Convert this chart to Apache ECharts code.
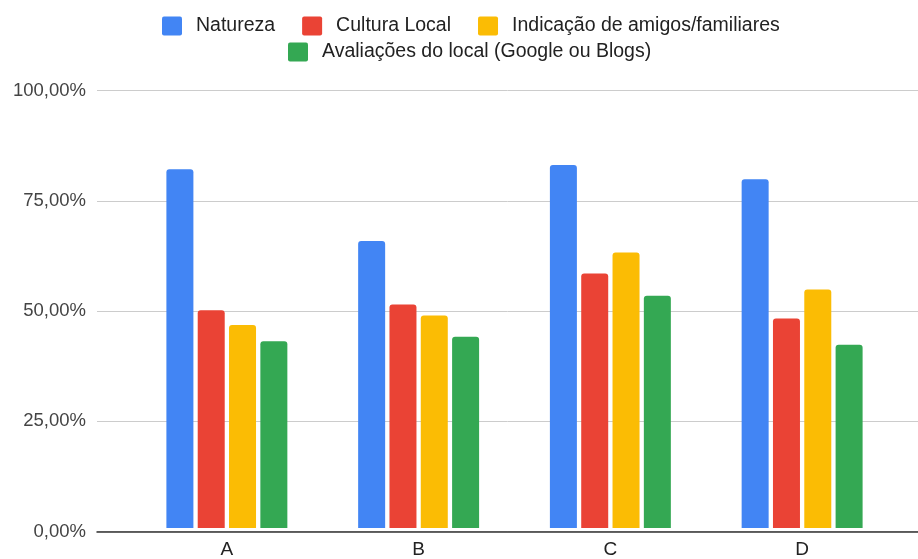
<!DOCTYPE html>
<html>
<head>
<meta charset="utf-8">
<style>
  html, body { margin: 0; padding: 0; background: #fff; }
  #chart { width: 918px; height: 559px; }
</style>
<script src="https://cdn.jsdelivr.net/npm/echarts@6/dist/echarts.min.js"></script>
</head>
<body>
<div id="chart"></div>
<script>
// Categories and series values (percent)
const categories = ['A', 'B', 'C', 'D'];
const natureza = [82.0, 65.6, 83.0, 79.7];
const culturaLocal = [49.8, 51.1, 58.2, 47.9];
const indicacao = [46.4, 48.6, 63.0, 54.5];
const avaliacoes = [42.7, 43.7, 53.1, 41.9];
const seriesNames = [
  'Natureza',
  'Cultura Local',
  'Indicação de amigos/familiares',
  'Avaliações do local (Google ou Blogs)'
];
const seriesColors = ['#4285F4', '#EA4335', '#FBBC04', '#34A853'];
const yTicks = [0, 25, 50, 75, 100];

const FONT = 'Liberation Sans, Arial, sans-serif';
const fmtPct = v => v.toFixed(2).replace('.', ',') + '%';

const chart = echarts.init(document.getElementById('chart'), null, { renderer: 'canvas' });

// small square swatch with slightly rounded corners
const swatch = 'path://M2,0H18A2,2,0,0,1,20,2V17A2,2,0,0,1,18,19H2A2,2,0,0,1,0,17V2A2,2,0,0,1,2,0Z';

const legendCommon = {
  orient: 'horizontal',
  icon: swatch,
  padding: 0,
  itemWidth: 20,
  itemHeight: 19,
  itemGap: 27,
  textStyle: { fontFamily: FONT, fontSize: 19.5, color: '#222', padding: [0, 0, 0, 9] }
};

const values = [natureza, culturaLocal, indicacao, avaliacoes];

const option = {
  animation: false,
  backgroundColor: '#fff',
  legend: [
    Object.assign({}, legendCommon, { data: seriesNames.slice(0, 3), left: 162, top: 16 }),
    Object.assign({}, legendCommon, { data: seriesNames.slice(3), left: 288, top: 42 })
  ],
  grid: [
    { left: 97, right: 0, top: 90.5, bottom: 27.5 },
    { left: 131, right: 20, top: 90.5, bottom: 27.5 }
  ],
  xAxis: [
    {
      type: 'category', gridIndex: 0, data: [''],
      axisLine: { show: true, lineStyle: { color: '#333', width: 1.5 } },
      axisTick: { show: false }, axisLabel: { show: false }
    },
    {
      type: 'category', gridIndex: 1, data: categories,
      axisLine: { show: false }, axisTick: { show: false },
      axisLabel: { fontFamily: FONT, fontSize: 19, color: '#222', margin: 12 }
    }
  ],
  yAxis: [
    {
      type: 'value', gridIndex: 0, min: yTicks[0], max: yTicks[yTicks.length - 1], interval: 25,
      axisLine: { show: false }, axisTick: { show: false },
      splitLine: { show: true, lineStyle: { color: '#cccccc', width: 1 } },
      axisLabel: { fontFamily: FONT, fontSize: 18.5, color: '#444', margin: 11, formatter: v => fmtPct(v) }
    },
    {
      type: 'value', gridIndex: 1, min: 0, max: 100, interval: 25,
      axisLine: { show: false }, axisTick: { show: false },
      splitLine: { show: false }, axisLabel: { show: false }
    }
  ],
  series: seriesNames.map((name, i) => ({
    name: name,
    type: 'bar',
    xAxisIndex: 1,
    yAxisIndex: 1,
    data: values[i],
    barWidth: 27,
    barGap: '16%',
    itemStyle: { color: seriesColors[i], borderRadius: [3, 3, 0, 0] },
    z: 3
  }))
};

chart.setOption(option);
</script>
</body>
</html>
